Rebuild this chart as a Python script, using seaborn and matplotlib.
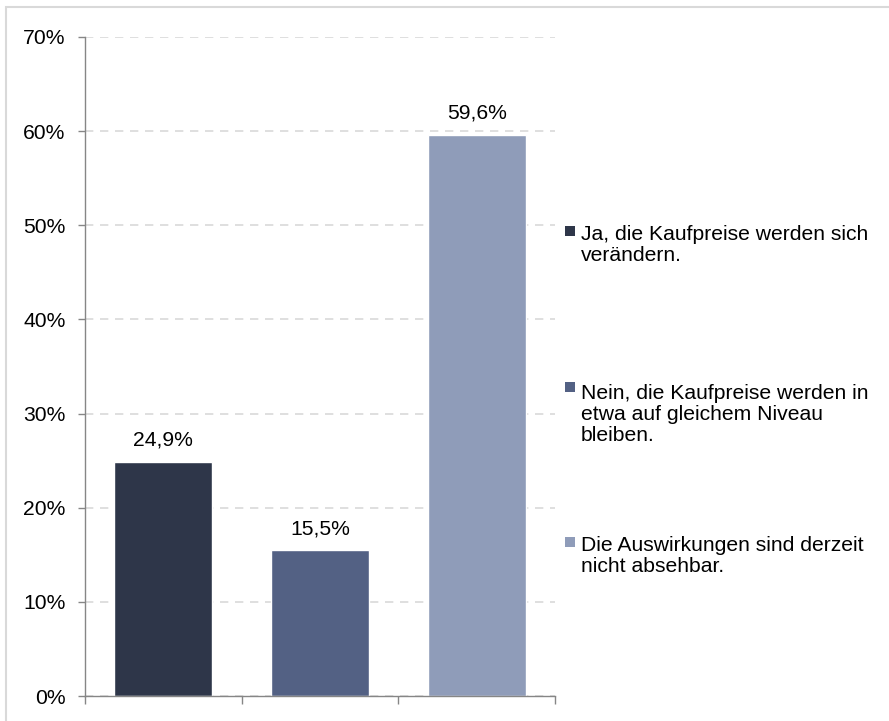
import matplotlib
matplotlib.use("Agg")
import matplotlib.pyplot as plt
import matplotlib.patches as mpatches
import seaborn as sns
import pandas as pd

# ----------------- Data -----------------
categories = [
    "Ja, die Kaufpreise werden sich\nverändern.",
    "Nein, die Kaufpreise werden in\netwa auf gleichem Niveau\nbleiben.",
    "Die Auswirkungen sind derzeit\nnicht absehbar.",
]
values = [24.9, 15.5, 59.6]
value_labels = ["24,9%", "15,5%", "59,6%"]
colors = ["#2E3649", "#536184", "#8F9CB9"]
y_ticks = [0, 10, 20, 30, 40, 50, 60, 70]
y_tick_labels = ["0%", "10%", "20%", "30%", "40%", "50%", "60%", "70%"]

df = pd.DataFrame({"Antwort": categories, "Anteil": values})

sns.set_style("white")
plt.rcParams["font.family"] = ["Liberation Sans", "DejaVu Sans"]

W, H = 889, 721
fig = plt.figure(figsize=(W / 100, H / 100), dpi=100)

# outer light border (top/left visible only)
fig.patches.append(mpatches.Rectangle((6 / W, -0.1), 1.2, 1 - 7 / H + 0.1,
                                      transform=fig.transFigure, fill=False,
                                      edgecolor="#D9D9D9", linewidth=1.5))

ax = fig.add_axes([85 / W, 25 / H, 470 / W, 659 / H])

sns.barplot(data=df, x="Antwort", y="Anteil", hue="Antwort", palette=colors,
            width=0.625, legend=False, ax=ax, saturation=1)

ax.set_ylim(0, 70)
ax.set_xlim(-0.5, 2.5)
ax.set_yticks(y_ticks)
ax.set_yticklabels(y_tick_labels, fontsize=15.2, color="black")
ax.set_xticks([])
ax.set_xticks([-0.5, 0.5, 1.5, 2.5], minor=True)
ax.tick_params(axis="x", which="minor", bottom=True, length=6, width=1,
               color="#868686", direction="out")
ax.tick_params(axis="y", length=5, width=1, color="#868686", pad=9, left=True)
ax.set_xlabel("")
ax.set_ylabel("")

ax.yaxis.grid(True, linestyle=(0, (5, 4)), color="#D9D9D9", linewidth=1.2)
ax.set_axisbelow(True)
for side in ["top", "right"]:
    ax.spines[side].set_visible(False)
for side in ["left", "bottom"]:
    ax.spines[side].set_color("#868686")
    ax.spines[side].set_linewidth(1.0)

# value labels
for i, (v, lab) in enumerate(zip(values, value_labels)):
    ax.annotate(lab, (i, v), xytext=(0, 11.5), textcoords="offset points",
                ha="center", va="baseline", fontsize=15.2, color="black")

# ----------------- Legend -----------------
legend_baselines = [237, 393, 548]
line_step = 24
for cat, col, base in zip(categories, colors, legend_baselines):
    n_lines = cat.count("\n") + 1
    fig.patches.append(mpatches.Rectangle((565 / W, 1 - (base - 1) / H), 10 / W, 10 / H,
                                          transform=fig.transFigure, facecolor=col,
                                          edgecolor="none"))
    fig.text(581 / W, 1 - (base + (n_lines - 1) * line_step) / H, cat, fontsize=15.2,
             va="baseline", ha="left", linespacing=1.13, color="black")

fig.savefig("out.png", dpi=100)
